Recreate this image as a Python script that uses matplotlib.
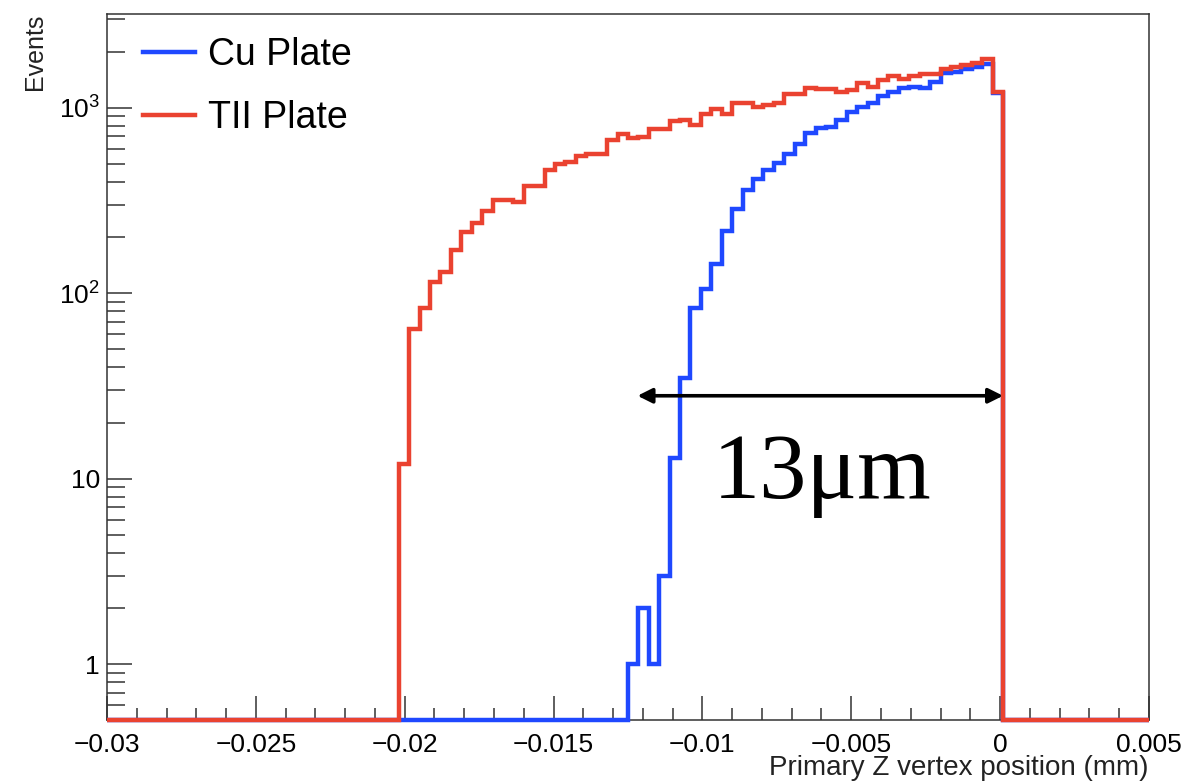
"""Primary Z vertex position for the Cu and TII plates (ROOT-style log histogram)."""

import numpy as np
import matplotlib
matplotlib.use("Agg")
import matplotlib.pyplot as plt
from matplotlib.ticker import LogLocator, MultipleLocator, NullFormatter

BLUE = "#1f48ff"
RED = "#ea4230"
FRAME = "#333333"

# 100 bins from -0.03 to 0.005 mm
X_MIN, X_MAX, N_BINS = -0.03, 0.005, 100

# Cu plate counts per bin (bins 0..99)
cu_counts = [0] * 50 + [
    1, 2, 1, 3, 13, 35, 83, 105, 144, 217,
    286, 359, 415, 460, 504, 560, 640, 727, 773, 790,
    857, 950, 1012, 1065, 1160, 1210, 1280, 1297, 1270, 1380,
    1531, 1563, 1610, 1650, 1713, 1200,
] + [0] * 14

# TII plate counts per bin (bins 0..99)
tii_counts = [0] * 28 + [
    12, 64, 83, 115, 130, 172, 214, 238, 277, 318,
    318, 310, 380, 380, 460, 495, 511, 550, 560, 565,
    668, 720, 690, 697, 764, 764, 847, 855, 810, 925,
    985, 931, 1063, 1063, 1012, 1038, 1063, 1190, 1190, 1280,
    1256, 1256, 1218, 1245, 1360, 1297, 1409, 1480, 1422, 1482,
    1518, 1518, 1610, 1663, 1698, 1748, 1823, 1218,
] + [0] * 14

series_labels = ["Cu Plate", "TII Plate"]

x_ticks = [-0.03, -0.025, -0.02, -0.015, -0.01, -0.005, 0.0, 0.005]
x_tick_labels = ["\u22120.03", "\u22120.025", "\u22120.02", "\u22120.015",
                 "\u22120.01", "\u22120.005", "0", "0.005"]
y_ticks = [1, 10, 100, 1000]
y_tick_labels = ["1", "10", r"$\mathregular{10^{2}}$", r"$\mathregular{10^{3}}$"]

Y_MIN, Y_MAX = 0.5, 3200


def main() -> None:
    plt.rcParams["font.family"] = ["Liberation Sans", "DejaVu Sans"]

    fig = plt.figure(figsize=(11.9, 7.81), dpi=100)
    ax = fig.add_axes([0.0899, 0.0781, 0.8756, 0.9039])

    edges = np.linspace(X_MIN, X_MAX, N_BINS + 1)
    for counts, color, label, z in [
        (cu_counts, BLUE, series_labels[0], 3),
        (tii_counts, RED, series_labels[1], 4),
    ]:
        vals = np.asarray(counts, dtype=float)
        # ROOT draws empty bins on the frame bottom
        vals = np.where(vals > 0, vals, Y_MIN)
        ax.stairs(vals, edges, baseline=None, color=color, lw=3.2,
                  label=label, zorder=z, clip_on=False)

    ax.set_yscale("log")
    ax.set_xlim(X_MIN, X_MAX)
    ax.set_ylim(Y_MIN, Y_MAX)

    ax.set_xticks(x_ticks, labels=x_tick_labels)
    ax.xaxis.set_minor_locator(MultipleLocator(0.001))
    ax.set_yticks(y_ticks, labels=y_tick_labels)
    ax.yaxis.set_minor_locator(LogLocator(base=10, subs=np.arange(2, 10), numticks=20))
    ax.yaxis.set_minor_formatter(NullFormatter())

    ax.tick_params(axis="x", which="major", direction="in", length=17, width=1.1,
                   color=FRAME, labelsize=19, pad=9, top=False)
    ax.tick_params(axis="x", which="minor", direction="in", length=8.5, width=1.1,
                   color=FRAME, top=False)
    ax.tick_params(axis="y", which="major", direction="in", length=18, width=1.1,
                   color=FRAME, labelsize=19, pad=5, right=False)
    ax.tick_params(axis="y", which="minor", direction="in", length=13, width=1.1,
                   color=FRAME, right=False)
    for s in ax.spines.values():
        s.set_color(FRAME)
        s.set_linewidth(1.1)

    ax.text(1.0, -0.068, "Primary Z vertex position (mm)", transform=ax.transAxes,
            ha="right", va="center", fontsize=20, color="#222222")
    ax.text(-0.069, 1.0, "Events", transform=ax.transAxes, rotation=90,
            ha="center", va="top", fontsize=18, color="#222222")

    ax.legend(loc="upper left", bbox_to_anchor=(0.0345, 0.968), frameon=False,
              fontsize=27, handlelength=1.4, handletextpad=0.33,
              labelspacing=0.72, borderpad=0, borderaxespad=0)
    for h in ax.get_legend().get_lines():
        h.set_linewidth(3.2)

    # width annotation
    ax.annotate("", xy=(-0.01218, 28), xytext=(0.0001, 28),
                arrowprops=dict(arrowstyle="<|-|>", color="black", lw=2.6,
                                mutation_scale=22, shrinkA=0, shrinkB=0),
                zorder=6)
    ax.text(-0.00966, 7.9, "13\u03bcm", ha="left", va="baseline",
            fontsize=68, family=["Liberation Serif", "DejaVu Serif"], color="black",
            zorder=6)

    fig.savefig("out.png", dpi=100, facecolor="white")


if __name__ == "__main__":
    main()
